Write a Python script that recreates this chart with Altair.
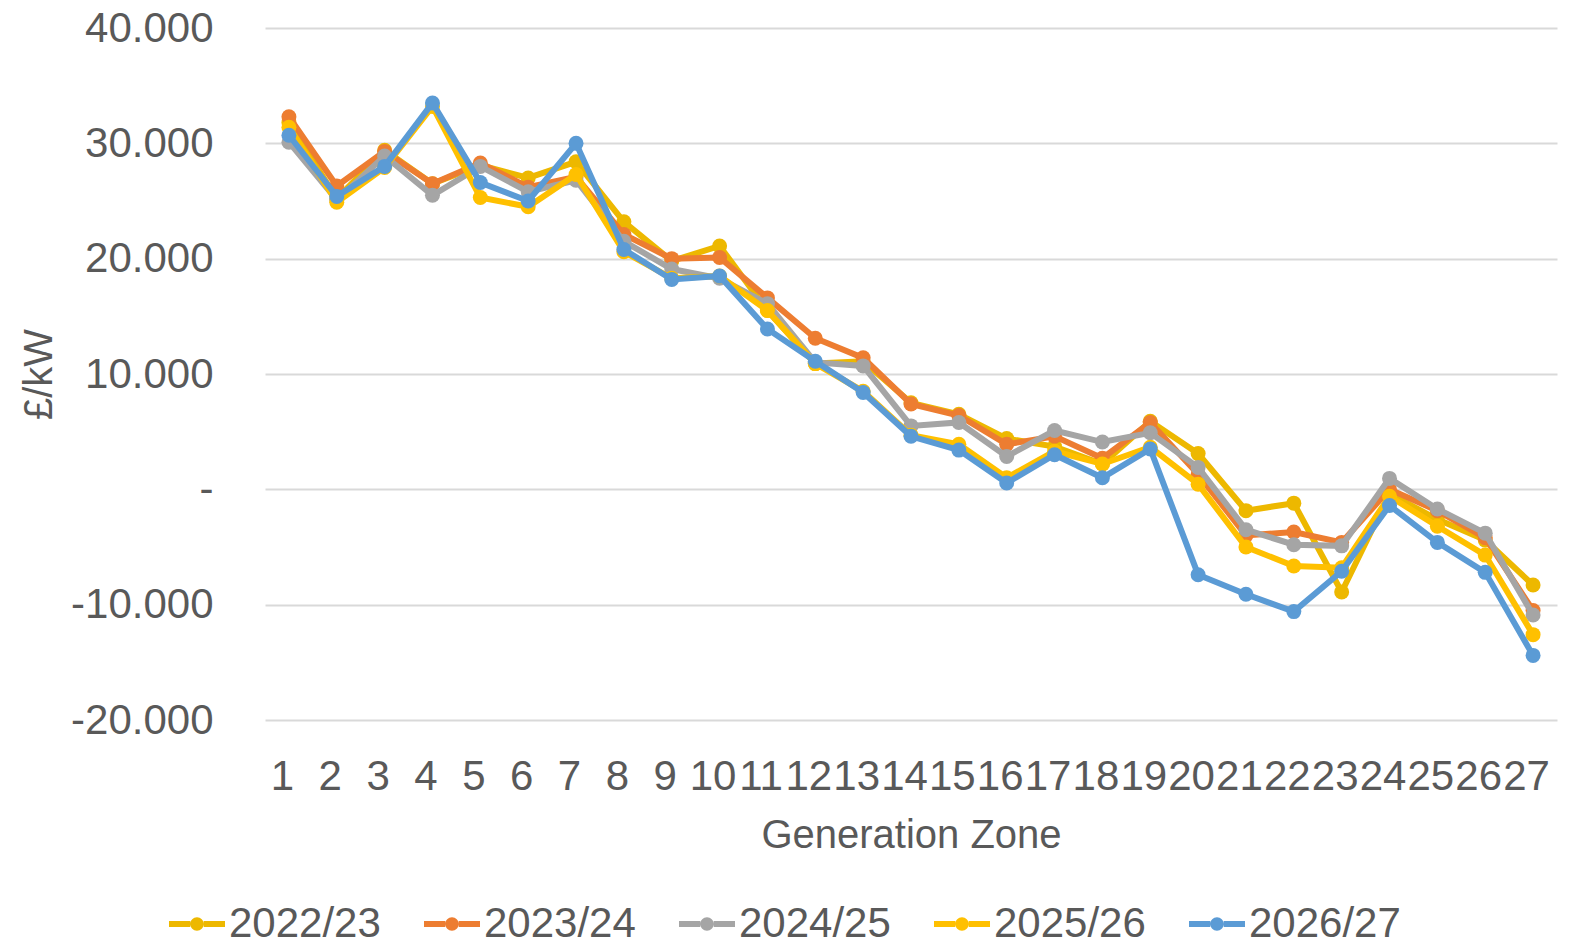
import altair as alt
import pandas as pd

zones = list(range(1, 28))
series_names = ["2022/23", "2023/24", "2024/25", "2025/26", "2026/27"]
colors = ["#EDB800", "#ED7D31", "#A5A5A5", "#FFC000", "#5B9BD5"]

v2022 = [31.8, 25.2, 29.4, 26.5, 28.1, 27.0, 28.4, 23.2, 19.8, 21.1, 15.5, 10.9, 11.1, 7.5,
         6.5, 4.4, 3.7, 2.2, 5.9, 3.1, -1.85, -1.2, -8.9, -0.4, -2.6, -4.4, -8.3]
v2023 = [32.3, 26.3, 29.3, 26.5, 28.3, 26.2, 27.1, 22.1, 20.0, 20.1, 16.6, 13.1, 11.4, 7.4,
         6.4, 3.9, 4.6, 2.7, 5.8, 1.3, -4.0, -3.7, -4.6, 0.0, -1.85, -4.2, -10.5]
v2024 = [30.1, 25.1, 28.9, 25.5, 28.0, 25.8, 26.8, 21.5, 19.1, 18.3, 16.1, 11.0, 10.7, 5.5,
         5.8, 2.85, 5.1, 4.1, 4.9, 1.9, -3.5, -4.8, -4.9, 0.95, -1.7, -3.8, -10.9]
v2025 = [31.4, 24.9, 27.9, 33.2, 25.3, 24.5, 27.3, 20.6, 18.3, 18.5, 15.5, 10.9, 8.5, 4.7,
         3.9, 1.0, 3.3, 2.2, 3.65, 0.45, -5.0, -6.65, -6.8, -0.6, -3.2, -5.7, -12.6]
v2026 = [30.7, 25.4, 28.0, 33.5, 26.6, 25.0, 30.0, 20.8, 18.2, 18.5, 13.9, 11.1, 8.4, 4.6,
         3.4, 0.55, 3.0, 1.0, 3.5, -7.4, -9.1, -10.6, -7.1, -1.4, -4.6, -7.2, -14.4]

y_ticks = [-20, -10, 0, 10, 20, 30, 40]

all_vals = [v2022, v2023, v2024, v2025, v2026]
rows = []
for name, vals in zip(series_names, all_vals):
    for z, v in zip(zones, vals):
        rows.append({"zone": z, "value": v, "series": name})
df = pd.DataFrame(rows)

FONT = "Liberation Sans"
TXT = "#595959"
NB = "\u00a0"

legend_path = ("M-1,-0.105 L-0.24,-0.105 L-0.24,0.105 L-1,0.105 Z "
               "M0.24,-0.105 L1,-0.105 L1,0.105 L0.24,0.105 Z "
               "M-0.24,0 A0.24,0.24 0 1,1 0.24,0 A0.24,0.24 0 1,1 -0.24,0 Z")

color_enc = alt.Color(
    "series:N",
    scale=alt.Scale(domain=series_names, range=colors),
    legend=alt.Legend(
        title=None,
        orient="none",
        direction="horizontal",
        legendX=-96,
        legendY=868,
        symbolType=legend_path,
        symbolSize=3136,
        symbolStrokeWidth=0,
        symbolOpacity=1,
        labelFont=FONT,
        labelFontSize=42,
        labelColor=TXT,
        labelOffset=4,
        columnPadding=43,
    ),
)

x_enc = alt.X(
    "zone:O",
    scale=alt.Scale(type="point", padding=0.5),
    axis=alt.Axis(
        title="Generation Zone",
        labelAngle=0,
        labelFont=FONT,
        labelFontSize=42,
        labelColor=TXT,
        labelPadding=36,
        labelOffset=-7,
        ticks=False,
        tickSize=0,
        domain=False,
        grid=False,
        titleFont=FONT,
        titleFontSize=40,
        titleFontWeight="normal",
        titleColor=TXT,
        titleY=115,
        titleBaseline="middle",
        labelOverlap=False,
    ),
)

y_enc = alt.Y(
    "value:Q",
    scale=alt.Scale(domain=[-20, 40], nice=False, zero=False),
    axis=alt.Axis(
        title="£/kW",
        values=y_ticks,
        labelExpr="datum.value == 0 ? '-" + NB * 3 + "' : datum.value + '.000'",
        labelFont=FONT,
        labelFontSize=42,
        labelColor=TXT,
        labelPadding=52,
        ticks=False,
        tickSize=0,
        domain=False,
        grid=True,
        gridColor="#D9D9D9",
        gridWidth=2,
        titleFont=FONT,
        titleFontSize=40,
        titleFontWeight="normal",
        titleColor=TXT,
        titleX=-226,
        titleAngle=270,
        titleBaseline="middle",
    ),
)

layers = []
for name in series_names:
    base = alt.Chart().transform_filter(alt.datum.series == name)
    layers.append(base.mark_line(strokeWidth=6).encode(x=x_enc, y=y_enc, color=color_enc))
    layers.append(base.mark_point(filled=True, size=225, opacity=1).encode(x=x_enc, y=y_enc, color=color_enc))

chart = alt.layer(*layers, data=df).properties(
    width=1292,
    height=692,
    background="white",
    autosize=alt.AutoSizeParams(type="none"),
    padding={"left": 257, "top": 20, "right": 10, "bottom": 219},
).configure_view(strokeWidth=0, stroke=None)

chart.save("out.html", embed_options={"renderer": "svg", "actions": False})
